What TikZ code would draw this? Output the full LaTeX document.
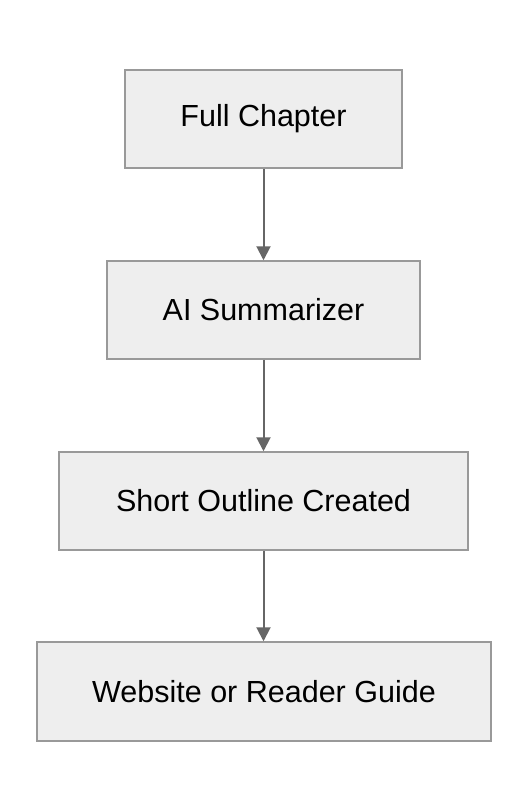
\documentclass[tikz,border=0pt]{standalone}
\usepackage{fontspec}
\setmainfont{Liberation Sans}
\usetikzlibrary{arrows.meta}
\definecolor{boxfill}{HTML}{EEEEEE}
\definecolor{boxline}{HTML}{999999}
\definecolor{arrowc}{HTML}{666666}
\begin{document}
\begin{tikzpicture}[x=1pt,y=-1pt,
  stepbox/.style={draw=boxline,fill=boxfill,line width=1.5pt,inner sep=0pt,
    font=\fontsize{30.5}{34}\selectfont,text=black},
  conn/.style={draw=arrowc,line width=2pt,-{Triangle[length=14pt,width=14pt]}}]
\useasboundingbox[fill=white] (0,0) rectangle (528,812);
\node[stepbox,minimum width=277pt,minimum height=98pt] (a) at (263.5,119) {Full Chapter};
\node[stepbox,minimum width=313pt,minimum height=98pt] (b) at (263.5,310) {AI Summarizer};
\node[stepbox,minimum width=409pt,minimum height=98pt] (c) at (263.5,501) {Short Outline Created};
\node[stepbox,minimum width=454pt,minimum height=99pt] (d) at (264,691.5) {Website or Reader Guide};
\draw[conn] (a.south) -- (b.north);
\draw[conn] (b.south) -- (c.north);
\draw[conn] (c.south) -- (c.south |- d.north);
\end{tikzpicture}
\end{document}
